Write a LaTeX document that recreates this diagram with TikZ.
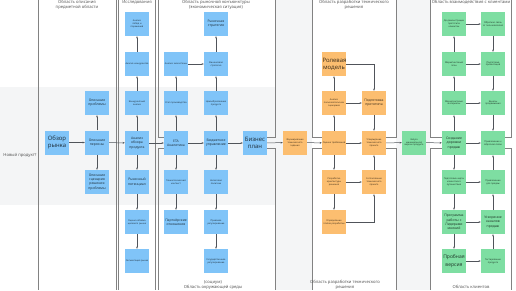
\documentclass[tikz,border=0pt]{standalone}
\usepackage{fontspec}
\setmainfont{Noto Sans}
\usepackage{tikz}
\usetikzlibrary{arrows.meta}

\definecolor{blueBox}{RGB}{128,196,248}
\definecolor{orangeBox}{RGB}{252,190,112}
\definecolor{greenBox}{RGB}{126,222,162}
\definecolor{bandGray}{RGB}{244,245,246}
\definecolor{frameGray}{RGB}{130,130,130}
\definecolor{arrowGray}{RGB}{80,84,90}

\begin{document}
\begin{tikzpicture}[x=1pt,y=-1pt]
    % Box size (in px of the reference)
    \def\s{24}
    \tikzset{
        % boxes
        box/.style={minimum width=\s pt, minimum height=\s pt, inner sep=0.5pt,
            text width=23pt, align=center, text=black, text opacity=0.72,
            font=\fontsize{2.3}{2.9}\selectfont},
        blue box/.style={box, fill=blueBox},
        orange box/.style={box, fill=orangeBox},
        green box/.style={box, fill=greenBox},
        % text sizes
        mid/.style={font=\fontsize{3.4}{4.2}\selectfont},
        big/.style={font=\fontsize{6}{7.4}\selectfont},
        % connectors and frames
        flow/.style={draw=arrowGray, line width=0.5pt, -{Stealth[length=2.2pt,width=1.8pt]}},
        frame/.style={draw=frameGray, line width=0.8pt},
        title/.style={align=center, text=black!65, font=\fontsize{4.2}{5}\selectfont}
    }
    \useasboundingbox (0,0) rectangle (516,290);

    % Backgrounds
    \fill[bandGray] (0,87) rectangle (275,205);
    \fill[bandGray] (275,0) rectangle (312,290);
    \fill[bandGray] (396,0) rectangle (430,290);

    % Frames of the regions
    \draw[frame] (38.5,0) -- (38.5,290);
    \draw[frame] (116,0) -- (116,290);
    \draw[frame] (118,0) -- (118,290);
    \draw[frame] (155,0) -- (155,290);
    \draw[frame] (158,0) -- (158,137) -- (164,137);
    \draw[frame] (164,148) -- (158,148) -- (158,290);
    \draw[frame] (275,0) -- (275,137) -- (267,137);
    \draw[frame] (267,148) -- (275,148) -- (275,290);
    \draw[frame] (312,0) -- (312,137) -- (322,137);
    \draw[frame] (322,148) -- (312,148) -- (312,290);
    \draw[frame] (396,0) -- (396,137) -- (386,137);
    \draw[frame] (386,148) -- (396,148) -- (396,290);
    \draw[frame] (430,0) -- (430,137) -- (442,137);
    \draw[frame] (442,148) -- (430,148) -- (430,290);
    \draw[frame] (511,0) -- (511,137) -- (505,137);
    \draw[frame] (505,148) -- (511,148) -- (511,290);

    % Titles of the regions
    \node[title] (tA) at (77,4.6) {Область описания\\предметной области};
    \node[title] (tB) at (137,2.4) {Исследования};
    \node[title] (tC) at (216,4.6) {Область рыночной конъюнктуры\\(экономическая ситуация)};
    \node[title] (tD) at (354,4.6) {Область разработки технического\\решения};
    \node[title] (tE) at (471,2.4) {Область взаимодействия с клиентами};
    \node[title] (bC) at (213,284.5) {(социум)\\Область окружающей среды};
    \node[title] (bD) at (345,284.5) {Область разработки технического\\решения};
    \node[title] (bE) at (471,287) {Область клиентов};
    \node[title] (novyj) at (20,155) {Новый продукт?};

    % Description of the domain
    \node[blue box, big] (rynok) at (57,142.5) {Обзор рынка};
    \node[blue box, mid] (problema) at (97,103) {Описание проблемы};
    \node[blue box, mid] (persona) at (97,142.5) {Описание персоны};
    \node[blue box, mid] (scenarij) at (97,182) {Описание сценария решения проблемы};

    % Research
    \node[blue box] (pobedy) at (137,24) {Анализ\\побед и\\поражений};
    \node[blue box] (konkurenty) at (137,64) {Анализ конкурентов};
    \node[blue box] (konkanaliz) at (137,103) {Конкурентный анализ};
    \node[blue box, mid] (obzor) at (137,143) {Анализ обзора продукта};
    \node[blue box, mid] (potencial) at (137,182) {Рыночный потенциал};
    \node[blue box] (obem) at (137,222) {Оценка объёма целевого рынка};
    \node[blue box] (segment) at (137,261) {Сегментация рынка};

    % Environment, first column
    \node[blue box] (ekosistema) at (176,64) {Анализ экосистемы};
    \node[blue box] (proizvodstvo) at (176,103) {Этап производства};
    \node[blue box, mid] (eta) at (176,143) {ETA\\Аналитика};
    \node[blue box] (tehkontekst) at (176,182) {Технологический контекст};
    \node[blue box, mid] (partner) at (176,222) {Партнёрские отношения};

    % Environment, second column
    \node[blue box, mid] (strategija) at (216,24) {Рыночная стратегия};
    \node[blue box] (finansy) at (216,64) {Финансовая стратегия};
    \node[blue box] (cena) at (216,103) {Ценообразование продукта};
    \node[blue box, mid] (budzhet) at (216,143) {Бюджетное управление};
    \node[blue box] (nalog) at (216,182) {Налоговая политика};
    \node[blue box] (pravo) at (216,222) {Правовое регулирование};
    \node[blue box] (gos) at (216,261) {Государственное регулирование};

    \node[blue box, big] (biznes) at (255,143) {Бизнес план};
    \node[orange box] (tz) at (295,142.5) {Формирование технического задания};

    % Development of the technical solution
    \node[orange box, big] (rol) at (334,64) {Ролевая модель};
    \node[orange box] (scenarii) at (334,103) {Анализ пользовательских сценариев};
    \node[orange box] (ocenka) at (334,143) {Оценка требований};
    \node[orange box] (arhitektura) at (334,182) {Разработка архитектуры решения};
    \node[orange box] (etapy) at (334,222) {Определение этапов разработки};
    \node[orange box, mid] (prototip) at (374,103) {Подготовка прототипа};
    \node[orange box] (utv) at (374,143) {Утверждение технического проекта};
    \node[orange box] (soglas) at (374,182) {Согласование технического проекта};

    \node[green box] (mvp) at (414,142.5) {Запуск минимальной версии продукта};

    % Clients, first column
    \node[green box] (demo) at (454,24) {До демонстрации прототипа клиентам};
    \node[green box] (mplan) at (454,64) {Маркетинговый план};
    \node[green box] (materialy) at (454,103) {Маркетинговые материалы};
    \node[green box, mid] (sozdanie) at (454,143) {Создание дорожки продаж};
    \node[green box] (karta) at (454,182) {Подготовка карты клиентского путешествия};
    \node[green box, mid] (lidery) at (454,222) {Программа работы с Лидерами мнений};
    \node[green box, big] (proba) at (454,261) {\fontsize{5}{6.2}\selectfont Пробная версия};

    % Clients, second column
    \node[green box] (otzyv) at (493,24) {Обратная связь от пользователей};
    \node[green box] (prezent) at (493,64) {Подготовка презентаций};
    \node[green box] (kanaly) at (493,103) {Каналы продвижения};
    \node[green box] (privlech) at (493,143) {Привлечение к обратной связи};
    \node[green box] (prodazhi) at (493,182) {Привлечение для продаж};
    \node[green box, mid] (uskor) at (493,222) {Ускорение каналов продаж};
    \node[green box] (test) at (493,261) {Тестирование продукта};

    % Main row
    \draw[flow] (rynok) -- (persona);
    \draw[flow] (persona) -- (obzor);
    \draw[flow] (obzor) -- (eta);
    \draw[flow] (eta) -- (budzhet);
    \draw[flow] (budzhet) -- (biznes);
    \draw[flow] (biznes) -- (tz);
    \draw[flow] (tz) -- (ocenka);
    \draw[flow] (ocenka) -- (utv);
    \draw[flow] (utv) -- (mvp);
    \draw[flow] (mvp) -- (sozdanie);
    \draw[flow] (sozdanie) -- (privlech);

    % Domain
    \draw[flow] (persona) -- (problema);
    \draw[flow] (persona) -- (scenarij);

    % Research
    \draw[flow] (obzor) -- (konkanaliz);
    \draw[flow] (konkanaliz) -- (konkurenty);
    \draw[flow] (konkurenty) -- (pobedy);
    \draw[flow] (obzor) -- (potencial);
    \draw[flow] (potencial) -- (obem);
    \draw[flow] (obem) -- (segment);

    % Environment
    \draw[flow] (eta) -- (proizvodstvo);
    \draw[flow] (proizvodstvo) -- (ekosistema);
    \draw[flow] (ekosistema) -- (finansy);
    \draw[flow] (eta) -- (tehkontekst);
    \draw[flow] (tehkontekst) -- (partner);
    \draw[flow] (budzhet) -- (cena);
    \draw[flow] (cena) -- (finansy);
    \draw[flow] (finansy) -- (strategija);
    \draw[flow] (budzhet) -- (nalog);
    \draw[flow] (nalog) -- (pravo);
    \draw[flow] (pravo) -- (gos);

    % Technical solution
    \draw[flow] (ocenka) -- (scenarii);
    \draw[flow] (scenarii) -- (rol);
    \draw[flow] (rol) -| (prototip);
    \draw[flow] (scenarii) -- (prototip);
    \draw[flow] (prototip) -- (utv);
    \draw[flow] (ocenka) -- (arhitektura);
    \draw[flow] (arhitektura) -- (etapy);
    \draw[flow] (arhitektura) -- (soglas);
    \draw[flow] (etapy) -| (soglas);
    \draw[flow] (soglas) -- (utv);

    % Clients
    \draw[flow] (sozdanie) -- (materialy);
    \draw[flow] (materialy) -- (mplan);
    \draw[flow] (mplan) -- (demo);
    \draw[flow] (demo) -- (otzyv);
    \draw[flow] (mplan) -- (prezent);
    \draw[flow] (materialy) -- (kanaly);
    \draw[flow] (otzyv) -- (prezent);
    \draw[flow] (prezent) -- (kanaly);
    \draw[flow] (kanaly) -- (privlech);
    \draw[flow] (sozdanie) -- (karta);
    \draw[flow] (karta) -- (lidery);
    \draw[flow] (lidery) -- (proba);
    \draw[flow] (karta) -- (prodazhi);
    \draw[flow] (lidery) -- (uskor);
    \draw[flow] (proba) -- (test);
    \draw[flow] (test) -- (uskor);
    \draw[flow] (uskor) -- (prodazhi);
    \draw[flow] (prodazhi) -- (privlech);
\end{tikzpicture}
\end{document}
